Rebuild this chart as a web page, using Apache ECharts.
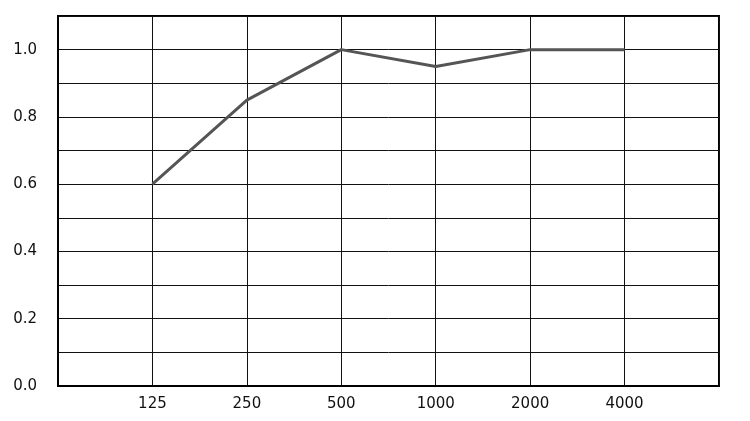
<!DOCTYPE html>
<html>
<head>
<meta charset="UTF-8">
<script src="https://cdn.jsdelivr.net/npm/echarts@6/dist/echarts.min.js"></script>
<style>html,body{margin:0;padding:0;background:#fff}</style>
</head>
<body>
<div id="main" style="width:750px;height:421px"></div>
<script>
// frequencies (Hz), with empty slots at both ends
var categories = ['', '125', '250', '500', '1000', '2000', '4000', '']
// absorption coefficient
var values = ['-', 0.6, 0.85, 1.0, 0.95, 1.0, 1.0, '-']

var chart = echarts.init(document.getElementById('main'))
var font = 'DejaVu Sans'

chart.setOption({
  animation: false,
  grid: {
    left: 58, right: 31, top: 16, bottom: 35,
    show: true, borderColor: '#000', borderWidth: 2
  },
  xAxis: {
    type: 'category',
    data: categories,
    boundaryGap: false,
    axisLine: { lineStyle: { color: '#000', width: 2 } },
    axisTick: { show: false },
    axisLabel: { color: '#111', fontFamily: font, fontSize: 15, margin: 11 },
    splitLine: { show: true, lineStyle: { color: '#111', width: 1 } }
  },
  yAxis: {
    type: 'value',
    min: 0, max: 1.1, interval: 0.1,
    axisLine: { show: true, lineStyle: { color: '#000', width: 2 } },
    axisTick: { show: false },
    axisLabel: {
      color: '#111', fontFamily: font, fontSize: 15, margin: 21,
      formatter: function (v) {
        var t = Math.round(v * 10)
        return (t % 2 === 0 && t <= 10) ? (t / 10).toFixed(1) : ''
      }
    },
    splitLine: { lineStyle: { color: '#111', width: 1 } }
  },
  series: [{
    type: 'line',
    data: values,
    symbol: 'none',
    lineStyle: { color: '#555', width: 3 }
  }]
})
</script>
</body>
</html>
